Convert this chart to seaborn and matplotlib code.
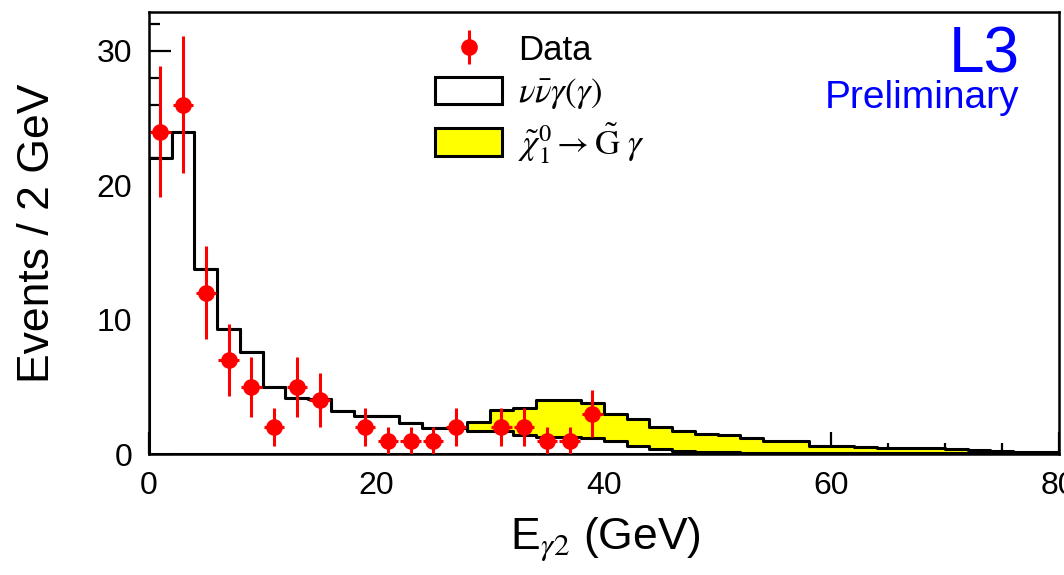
import numpy as np
import pandas as pd
import matplotlib
matplotlib.use("Agg")
import matplotlib.pyplot as plt
import seaborn as sns
from matplotlib.patches import Patch
from matplotlib.ticker import MultipleLocator

# 2 GeV bins from 0 to 80 GeV
bin_edges = list(range(0, 82, 2))
bin_centers = [e + 1 for e in bin_edges[:-1]]

# nu nubar gamma(gamma) expectation per bin
background = [22.0, 24.0, 13.8, 9.3, 7.6, 5.0, 4.2, 4.1, 3.2, 2.8,
              2.8, 2.3, 1.95, 1.9, 1.7, 1.7, 1.45, 1.3, 1.3, 1.2,
              1.0, 0.6, 0.35, 0.2, 0.15, 0.12, 0.1, 0.1, 0.08, 0.08,
              0.07, 0.06, 0.06, 0.05, 0.05, 0.04, 0.04, 0.03, 0.03, 0.02]

# neutralino -> gravitino gamma signal, stacked on top
signal = [0, 0, 0, 0, 0, 0, 0, 0, 0, 0,
          0, 0, 0, 0, 0.7, 1.6, 1.95, 2.7, 2.7, 2.6,
          2.0, 2.0, 1.65, 1.5, 1.35, 1.28, 1.1, 0.9, 0.9, 0.5,
          0.5, 0.47, 0.38, 0.38, 0.38, 0.34, 0.27, 0.2, 0.15, 0.1]

# observed events
data_x = [1, 3, 5, 7, 9, 11, 13, 15, 19, 21, 23, 25, 27, 31, 33, 35, 37, 39]
data_n = [24, 26, 12, 7, 5, 2, 5, 4, 2, 1, 1, 1, 2, 2, 2, 1, 1, 3]

hist = pd.DataFrame({'E': bin_centers, 'bkg': background, 'sig': signal})
hist['total'] = hist['bkg'] + hist['sig']

sns.set_style("white")
plt.rcParams['font.family'] = ['Liberation Sans', 'DejaVu Sans']
plt.rcParams['mathtext.fontset'] = 'stix'
plt.rcParams['text.color'] = 'black'
plt.rcParams['axes.labelcolor'] = 'black'
plt.rcParams['xtick.color'] = 'black'
plt.rcParams['ytick.color'] = 'black'

fig = plt.figure(figsize=(10.64, 5.75), dpi=100)
ax = fig.add_axes([0.140, 0.2104, 0.855, 0.7687])

# signal + background (yellow), then background on top (white)
sns.histplot(data=hist, x='E', weights='total', bins=bin_edges, element='step',
             fill=True, facecolor='yellow', edgecolor='black', linewidth=2.2,
             alpha=1, ax=ax)
sns.histplot(data=hist, x='E', weights='bkg', bins=bin_edges, element='step',
             fill=True, facecolor='white', edgecolor='black', linewidth=2.2,
             alpha=1, ax=ax)

ax.errorbar(data_x, data_n, yerr=np.sqrt(data_n), xerr=0.9, fmt='o',
            color='red', markersize=11, elinewidth=2.2, capsize=0, zorder=5)

ax.set_xlim(0, 80)
ax.set_ylim(0, 32.9)
ax.xaxis.set_major_locator(MultipleLocator(20))
ax.xaxis.set_minor_locator(MultipleLocator(5))
ax.yaxis.set_major_locator(MultipleLocator(10))
ax.yaxis.set_minor_locator(MultipleLocator(2))
ax.tick_params(which='both', direction='in', width=1.6, labelsize=23,
               bottom=True, left=True, top=False, right=False)
ax.tick_params(which='major', length=16, pad=12)
ax.tick_params(which='minor', length=8)
for s in ax.spines.values():
    s.set_linewidth(1.8)
    s.set_color('black')

ax.set_xlabel(r'E$_{\gamma 2}$ (GeV)', fontsize=32)
ax.set_ylabel('Events / 2 GeV', fontsize=32)
ax.xaxis.set_label_coords(0.502, -0.138)
ax.yaxis.set_label_coords(-0.100, 0.5)

# legend
h_data = ax.errorbar([np.nan], [np.nan], yerr=[1], fmt='o', color='red',
                     markersize=11, elinewidth=2.2)
handles = [h_data,
           Patch(facecolor='white', edgecolor='black', linewidth=2.2),
           Patch(facecolor='yellow', edgecolor='black', linewidth=2.2)]
labels = ['Data', r'$\nu\bar{\nu}\gamma(\gamma)$',
          r'$\tilde{\chi}^0_1 \rightarrow \tilde{\mathrm{G}}\ \gamma$']
ax.legend(handles, labels, loc='upper left',
          bbox_to_anchor=(435 / 1064, 1 - 34 / 575),
          bbox_transform=fig.transFigure, borderpad=0, borderaxespad=0,
          frameon=False, fontsize=25, handlelength=1.93, handleheight=0.84,
          labelspacing=0.27, handletextpad=0.45)

ax.text(0.957, 0.864, 'L3', transform=ax.transAxes, ha='right',
        va='baseline', fontsize=46, color='#0000ff')
ax.text(0.957, 0.783, 'Preliminary', transform=ax.transAxes, ha='right',
        va='baseline', fontsize=28, color='#0000ff')

fig.savefig('out.png', dpi=100)
